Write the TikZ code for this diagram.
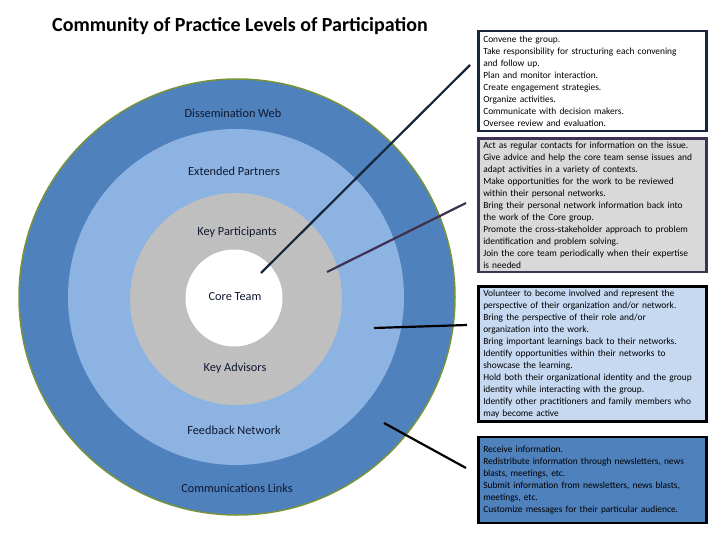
\documentclass[tikz,border=0pt]{standalone}
\usepackage{fontspec}
\setmainfont{Carlito}
\usetikzlibrary{positioning}

\definecolor{webblue}{HTML}{4F81BD}
\definecolor{partnerblue}{HTML}{8DB3E2}
\definecolor{keygray}{HTML}{BFBFBF}
\definecolor{rimgreen}{HTML}{77933C}
\definecolor{navyline}{HTML}{17263A}
\definecolor{plumline}{HTML}{3F3151}
\definecolor{boxblue}{HTML}{C6D9F1}
\definecolor{boxgray}{HTML}{D9D9D9}
\definecolor{lbltext}{HTML}{101830}

\begin{document}
\begin{tikzpicture}[x=1pt, y=-1pt,
  ring/.style={circle, draw=none, inner sep=0pt},
  lvl/.style={font=\fontsize{12.3}{14}\selectfont, text=lbltext},
  note/.style={rectangle, draw, line width=2.5pt, text width=218pt, align=left, inner xsep=5pt, inner ysep=3pt, font=\fontsize{9.4}{12}\selectfont},
  leader/.style={line width=2.2pt}
]
\useasboundingbox (0,0) rectangle (720,540);

% ── Title ────────────────────────────────────────────────────
\node[font=\bfseries\fontsize{20}{24}\selectfont] (title) at (240,26) {Community of Practice Levels of Participation};

% ── Rings (outer first) ──────────────────────────────────────
\node[ring, fill=webblue, draw=rimgreen, line width=1.5pt, minimum size=436pt] (web) at (237,297) {};
\node[ring, fill=partnerblue, minimum size=336pt] (partners) at (236,297) {};
\node[ring, fill=keygray, minimum size=212pt] (keys) at (236,299) {};
\node[ring, fill=white, minimum size=97pt] (core) at (234,298) {};

% ── Ring labels ──────────────────────────────────────────────
\node[lvl] (lblweb)  at (233,113) {Dissemination Web};
\node[lvl] (lblext)  at (234,171) {Extended Partners};
\node[lvl] (lblkeyp) at (237,232) {Key Participants};
\node[lvl] (lblcore) at (235,297) {Core Team};
\node[lvl] (lblkeya) at (235,368) {Key Advisors};
\node[lvl] (lblfeed) at (234,430) {Feedback Network};
\node[lvl] (lblcomm) at (237,488) {Communications Links};

% ── Role boxes (right column) ────────────────────────────────
\node[note, draw=navyline, fill=white, minimum height=100pt, anchor=north west] (convene) at (477,30)
  {Convene the group.\\
   Take responsibility for structuring each convening\\
   and follow up.\\
   Plan and monitor interaction.\\
   Create engagement strategies.\\
   Organize activities.\\
   Communicate with decision makers.\\
   Oversee review and evaluation.};
\node[note, draw=plumline, fill=boxgray, minimum height=133pt, below=5pt of convene] (contacts)
  {Act as regular contacts for information on the issue.\\
   Give advice and help the core team sense issues and\\
   adapt activities in a variety of contexts.\\
   Make opportunities for the work to be reviewed\\
   within their personal networks.\\
   Bring their personal network information back into\\
   the work of the Core group.\\
   Promote the cross-stakeholder approach to problem\\
   identification and problem solving.\\
   Join the core team periodically when their expertise\\
   is needed};
\node[note, draw=black, fill=boxblue, minimum height=135pt, below=12pt of contacts] (volunteer)
  {Volunteer to become involved and represent the\\
   perspective of their organization and/or network.\\
   Bring the perspective of their role and/or\\
   organization into the work.\\
   Bring important learnings back to their networks.\\
   Identify opportunities within their networks to\\
   showcase the learning.\\
   Hold both their organizational identity and the group\\
   identity while interacting with the group.\\
   Identify other practitioners and family members who\\
   may become active};
\node[note, draw=black, fill=webblue, minimum height=86pt, below=13pt of volunteer] (receive)
  {Receive information.\\
   Redistribute information through newsletters, news\\
   blasts, meetings, etc.\\
   Submit information from newsletters, news blasts,\\
   meetings, etc.\\
   Customize messages for their particular audience.};

% ── Leader lines ─────────────────────────────────────────────
\coordinate (corepin)  at (261,273);
\coordinate (convpin)  at (470,65);
\coordinate (keyppin)  at (327,272);
\coordinate (contpin)  at (466,203);
\coordinate (feedpin)  at (374,328);
\coordinate (volpin)   at (467,325);
\coordinate (commpin)  at (384,423);
\coordinate (recpin)   at (466,468);

\draw[leader, navyline] (corepin) -- (convpin);
\draw[leader, plumline] (keyppin) -- (contpin);
\draw[leader, black]    (feedpin) -- (volpin);
\draw[leader, black]    (commpin) -- (recpin);
\end{tikzpicture}
\end{document}
